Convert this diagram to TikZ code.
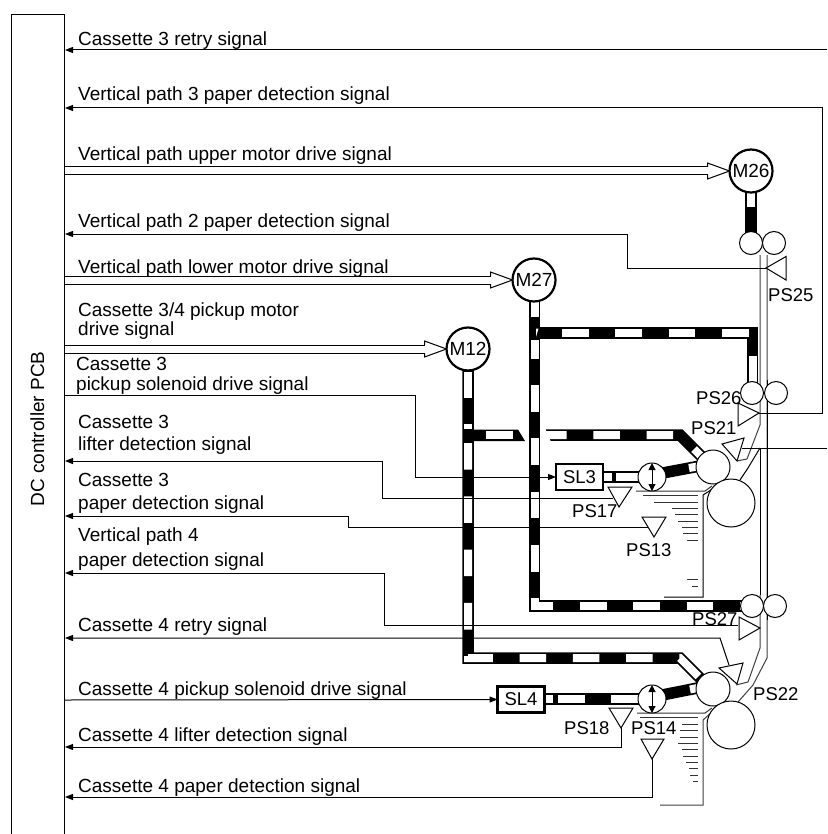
\documentclass[tikz,border=0pt]{standalone}
\usepackage{fontspec}
\setmainfont{Liberation Sans}
\usetikzlibrary{arrows.meta,calc}
\tikzset{
  sig/.style={line width=1pt,line join=miter},
  sigin/.style={sig,-{Triangle[length=8pt,width=6pt]},shorten >=0pt},
  lbl/.style={anchor=base west,inner sep=0pt,font=\fontsize{19}{22}\selectfont},
  slbl/.style={anchor=base west,inner sep=0pt,font=\fontsize{18.5}{22}\selectfont},
  motor/.style={circle,draw,fill=white,line width=2.2pt,minimum size=43pt,inner sep=0pt,outer sep=0pt,font=\fontsize{19}{22}\selectfont},
  sol/.style={rectangle,draw,fill=white,line width=2.2pt,inner sep=0pt,outer sep=0pt,minimum width=47pt,minimum height=26pt,font=\fontsize{18.5}{22}\selectfont},
  roller/.style={circle,draw,fill=white,line width=1pt,inner sep=0pt,outer sep=0pt},
  clutch/.style={roller,minimum size=28pt},
  sens/.style={sig,fill=white},
  beltout/.style={line width=11.5pt,black,line join=miter},
  beltin/.style={line width=8pt,white,line join=miter},
  beltdash/.style={beltin,dash pattern=on 26.6pt off 26.7pt},
  paperl/.style={line width=1pt,black!75},
  stack/.style={line width=1pt,black!80},
  twohead/.style={line width=1pt,{Triangle[length=7pt,width=7pt]}-{Triangle[length=7pt,width=7pt]}}
}
\newcommand\msig[2]{\fill[white] ($(#1)+(1,-4)$) rectangle ($(#2)+(-22,4)$);
  \draw[sig,fill=white] ($(#2)+(-22,-4)$) -- ($(#2)+(-22,-8)$) -- (#2) -- ($(#2)+(-22,8)$) -- ($(#2)+(-22,4)$);
  \draw[sig] ($(#1)+(0,-4)$) -- ($(#2)+(-22,-4)$);
  \draw[sig] ($(#1)+(0,4)$) -- ($(#2)+(-22,4)$);}
\begin{document}
\begin{tikzpicture}[x=1pt,y=-1pt]
\useasboundingbox (0,0) rectangle (827,834);
\fill[white] (0,0) rectangle (827,834);

% PCB
\draw[sig] (11,834) -- (11,15) -- (64,15) -- (64,834);
\node[rotate=90,anchor=base,inner sep=0pt,font=\fontsize{19}{22}\selectfont] (pcb) at (44,429) {DC controller PCB};

% PCB side ends
\coordinate (p1) at (65,50);
\coordinate (p2) at (65,108);
\coordinate (p3) at (64,171);
\coordinate (p4) at (65,234);
\coordinate (p5) at (64,280);
\coordinate (p6) at (64,349);
\coordinate (p7) at (64,395);
\coordinate (p8) at (65,461);
\coordinate (p9) at (65,516);
\coordinate (p10) at (65,573);
\coordinate (p11) at (65,638);
\coordinate (p12) at (64,700);
\coordinate (p13) at (65,747);
\coordinate (p14) at (65,797);
\coordinate (e1) at (827,50);
\coordinate (e2) at (827,448);

% Sensor points
\coordinate (s25) at (766,268);
\coordinate (s26) at (759,413);
\coordinate (s21) at (742,448);
\coordinate (s17) at (613,498);
\coordinate (s13) at (648,527);
\coordinate (s27) at (738,625);
\coordinate (s22) at (729,665);
\coordinate (s18) at (621,728);
\coordinate (s14) at (652,759);

% Belts: M27
\draw[beltout] (534.5,300) -- (534.5,606) -- (742,606);
\draw[beltdash] (534.5,385) -- (534.5,606) -- (742,606);
\draw[beltin] (534.5,300) -- (534.5,317);
\draw[beltin] (534.5,340) -- (534.5,359);
\draw[beltout] (534.5,333) -- (752.5,333) -- (752.5,390);
\draw[beltdash] (562,333) -- (752.5,333) -- (752.5,390);
\fill[white] (536,328.5) -- (538.5,328.5) -- (536,337) -- cycle;

% Belts: M12
\draw[beltout] (468,370) -- (468,658) -- (680,658) -- (706,684);
\draw[beltdash] (468,443) -- (468,658) -- (680,658) -- (706,684);
\draw[beltin] (468,372) -- (468,398);
\draw[beltin] (468,424) -- (468,429);
\fill[black] (468,429.5) -- (518,429.5) -- (525,441) -- (468,441) -- cycle;
\draw[beltin] (486,435) -- (513,435);
% upper branch after the crossing
\draw[beltout] (540,435) -- (680,435) -- (704,459);
\draw[beltdash] (540,435) -- (680,435) -- (704,459);
\fill[white] (540,428) -- (545,428) -- (551,442) -- (540,442) -- cycle;

% shafts to solenoids and clutches
\draw[beltout] (603,477) -- (640,477);
\draw[beltin] (604,477) -- (612,477);
\draw[beltin] (616,477) -- (638,477);
\draw[beltout] (652,475) -- (700,466);
\draw[beltin] (689,468) -- (698,466.4);
\draw[beltout] (545,699) -- (640,699);
\draw[beltin] (546,699) -- (553,699);
\draw[beltin] (558,699) -- (585,699);
\draw[beltin] (611,699) -- (638,699);
\draw[beltout] (652,697) -- (700,687.5);
\draw[beltin] (690,689.5) -- (698,687.9);
% M26 shaft
\draw[beltout] (751,190) -- (751,233);
\draw[beltin] (751,193) -- (751,207);

% paper path
\draw[paperl] (760,255) -- (760,425) -- (747,459) -- (737,461);
\draw[paperl] (767,255) -- (767,658) -- (753,685) -- (738,702);
\draw[sig] (767,380) -- (767,620);
\draw[sig] (760,448) -- (760,595);
\draw[paperl] (760,595) -- (760,648) -- (748,682) -- (736,685);
\draw[sig] (760,448) -- (748,468) -- (740,480);

% rollers
\node[roller,minimum size=23pt] (r1a) at (751,243) {};
\node[roller,minimum size=23pt] (r1b) at (774,243) {};
\node[roller,minimum size=23pt] (r2a) at (752,393) {};
\node[roller,minimum size=23pt] (r2b) at (776,393) {};
\node[roller,minimum size=23pt] (r3a) at (752,606) {};
\node[roller,minimum size=23pt] (r3b) at (775,606) {};
% cassette 3 stack
\draw[stack] (636,491) -- (705,491) -- (712,486);
\draw[stack] (643,495.5) -- (698,495.5);
\draw[stack] (654,502) -- (698,502);
\draw[stack] (672,508) -- (698,508);
\draw[stack] (675,514) -- (698,514);
\draw[stack] (678,521) -- (698,521);
\draw[stack] (682,527) -- (698,527);
\draw[stack] (683,533) -- (698,533);
\draw[stack] (687,540) -- (698,540);
\draw[stack] (687,579) -- (698,579);
\draw[stack] (692,586) -- (698,586);
\draw[sig] (711,490) -- (703,495) -- (703,597) -- (664,597);
% cassette 4 stack
\draw[stack] (637,713) -- (705,713) -- (712,708);
\draw[stack] (640,717) -- (698,717);
\draw[stack] (682,724) -- (698,724);
\draw[stack] (680,730) -- (698,730);
\draw[stack] (680,737) -- (698,737);
\draw[stack] (678,743) -- (698,743);
\draw[stack] (682,749) -- (698,749);
\draw[stack] (683,756) -- (698,756);
\draw[stack] (686,762) -- (698,762);
\draw[stack] (689,768) -- (698,768);
\draw[stack] (690,775) -- (698,775);
\draw[stack] (693,781) -- (698,781);
\draw[paperl] (712,712) -- (703,720) -- (703,805) -- (660,805);

\node[roller,minimum size=34pt] (pu3) at (713,467) {};
\node[roller,minimum size=48pt] (sp3) at (731,503) {};
\node[roller,minimum size=34pt] (pu4) at (713,689) {};
\node[roller,minimum size=48pt] (sp4) at (731,725) {};
\node[clutch] (c3) at (652,477) {};
\node[clutch] (c4) at (652,699) {};
\draw[twohead] (c3.north) -- (c3.south);
\draw[twohead] (c4.north) -- (c4.south);

% Motors and solenoids
\node[motor] (M26) at (751,171) {M26};
\node[motor] (M27) at (534,280) {M27};
\node[motor] (M12) at (468,349) {M12};
\node[sol] (SL3) at (579.5,477) {SL3};
\node[sol] (SL4) at (521,699.5) {SL4};

% Motor drive signals
\msig{p3}{M26.west}
\msig{p5}{M27.west}
\msig{p6}{M12.west}

% Signals
\draw[sigin] (e1) -- (p1);
\draw[sigin] (s26) -- (822,413) -- (822,108) -- (p2);
\draw[sigin] (s25) -- (627,268) -- (627,234) -- (p4);
\draw[sigin] (p7) -- (415,395) -- (415,477) -- (SL3.west);
\draw[sigin] (s17) -- (382,498) -- (382,461) -- (p8);
\draw[sigin] (s13) -- (348,527) -- (348,516) -- (p9);
\draw[sigin] (s27) -- (384,625) -- (384,573) -- (p10);
\draw[sigin] (s22) -- (720,638) -- (p11);
\draw[sigin] (p12) -- (SL4.west);
\draw[sigin] (s18) -- (621,747) -- (p13);
\draw[sigin] (s14) -- (652,797) -- (p14);
\draw[sig] (e2) -- (s21);

% Sensors
\draw[sens] (786,256.5) -- (s25) -- (786,280) -- cycle;
\draw[sens] (738,403) -- (s26) -- (738,426) -- cycle;
\draw[sens] (722,444) -- (744,438) -- (737,461) -- cycle;
\draw[sens] (608,487) -- (632,487) -- (619,507) -- cycle;
\draw[sens] (642,517) -- (666,517) -- (654,537) -- cycle;
\draw[sens] (739,617) -- (760,628) -- (739,640) -- cycle;
\draw[sens] (719,668) -- (743,663) -- (737,684) -- cycle;
\draw[sens] (609,708) -- (633,708) -- (s18) -- cycle;
\draw[sens] (641,739) -- (664,739) -- (s14) -- cycle;

% Labels
\node[lbl] (t1) at (78,46) {Cassette 3 retry signal};
\node[lbl] (t2) at (78,101) {Vertical path 3 paper detection signal};
\node[lbl] (t3) at (78,161) {Vertical path upper motor drive signal};
\node[lbl] (t4) at (78,227) {Vertical path 2 paper detection signal};
\node[lbl] (t5) at (78,273) {Vertical path lower motor drive signal};
\node[lbl] (t6) at (78,316) {Cassette 3/4 pickup motor};
\node[lbl] (t6b) at (78,335) {drive signal};
\node[lbl] (t7) at (76,370) {Cassette 3};
\node[lbl] (t7b) at (76,390) {pickup solenoid drive signal};
\node[lbl] (t8) at (78,428) {Cassette 3};
\node[lbl] (t8b) at (78,450) {lifter detection signal};
\node[lbl] (t9) at (78,486) {Cassette 3};
\node[lbl] (t9b) at (78,509) {paper detection signal};
\node[lbl] (t10) at (78,541) {Vertical path 4};
\node[lbl] (t10b) at (78,566) {paper detection signal};
\node[lbl] (t11) at (78,631) {Cassette 4 retry signal};
\node[lbl] (t12) at (78,695) {Cassette 4 pickup solenoid drive signal};
\node[lbl] (t13) at (78,741) {Cassette 4 lifter detection signal};
\node[lbl] (t14) at (78,792) {Cassette 4 paper detection signal};

\node[slbl] (l25) at (768,301) {PS25};
\node[slbl] (l26) at (696,404) {PS26};
\node[slbl] (l21) at (691,434) {PS21};
\node[slbl] (l17) at (572,517) {PS17};
\node[slbl] (l13) at (626,556) {PS13};
\node[slbl] (l27) at (692,625) {PS27};
\node[slbl] (l22) at (753,700) {PS22};
\node[slbl] (l18) at (564,734) {PS18};
\node[slbl] (l14) at (631,734) {PS14};
\end{tikzpicture}
\end{document}
